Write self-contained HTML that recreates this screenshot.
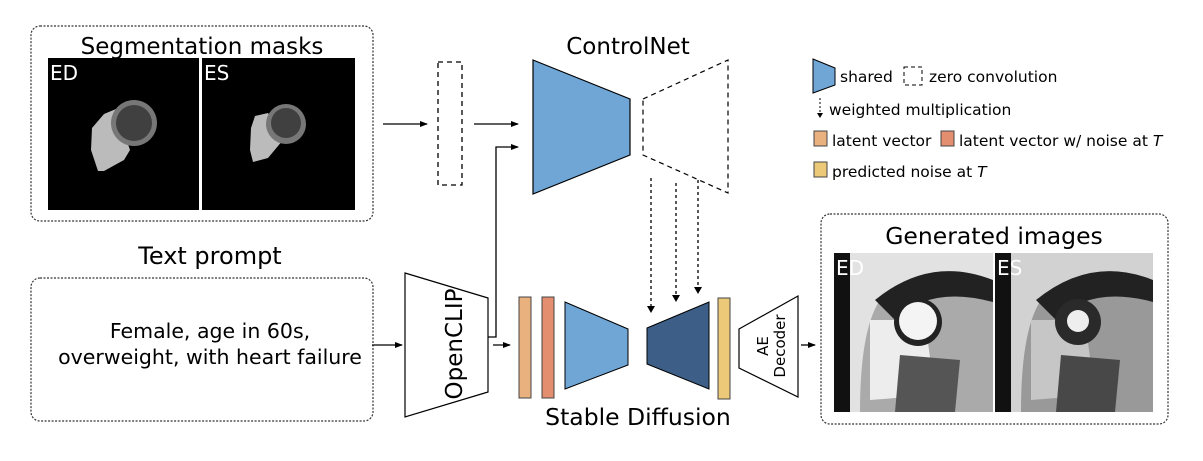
<!DOCTYPE html>
<html><head><style>
body{margin:0;background:#fff;}
svg text{font-family:"DejaVu Sans","Liberation Sans",sans-serif;fill:#000;}
</style></head><body>
<svg width="1203" height="456" viewBox="0 0 1203 456" xmlns="http://www.w3.org/2000/svg">
<defs>
<marker id="ar" markerWidth="8" markerHeight="8" refX="7" refY="4" orient="auto" markerUnits="userSpaceOnUse"><path d="M0,1 L8,4 L0,7z" fill="#000"/></marker>
</defs>
<!-- Segmentation box -->
<rect x="31" y="26" width="342" height="195" rx="9" fill="none" stroke="#333" stroke-width="1.2" stroke-dasharray="2,1.5"/>
<text x="202" y="54" font-size="23" text-anchor="middle">Segmentation masks</text>
<rect x="48" y="58" width="307" height="152" fill="#000"/>
<rect x="199" y="58" width="3" height="152" fill="#fff"/>
<text x="50" y="80" font-size="20" style="fill:#fff">ED</text>
<text x="204" y="80" font-size="20" style="fill:#fff">ES</text>
<path d="M104,114 L116,109 L130,150 L124,160 L104,171 L98,171 L91,150 L92,128z" fill="#bbb"/>
<circle cx="134" cy="123" r="23" fill="#777"/><circle cx="134" cy="123" r="18" fill="#404040"/>
<path d="M255,116 L268,113 L283,140 L268,158 L253,162 L250,150 L251,128z" fill="#bbb"/>
<circle cx="286" cy="124" r="20" fill="#777"/><circle cx="286" cy="123" r="15" fill="#404040"/>
<!-- Text prompt -->
<text x="210" y="264" font-size="24" text-anchor="middle">Text prompt</text>
<rect x="31" y="278" width="342" height="143" rx="9" fill="none" stroke="#333" stroke-width="1.2" stroke-dasharray="2,1.5"/>
<text x="210" y="338" font-size="20.5" text-anchor="middle">Female, age in 60s,</text>
<text x="210" y="364" font-size="20.5" text-anchor="middle">overweight, with heart failure</text>
<!-- arrows top -->
<line x1="383" y1="124" x2="427" y2="124" stroke="#000" stroke-width="1.3" marker-end="url(#ar)"/>
<rect x="438" y="62" width="24" height="123" fill="none" stroke="#000" stroke-width="1.3" stroke-dasharray="5,4"/>
<line x1="474" y1="124" x2="518" y2="124" stroke="#000" stroke-width="1.3" marker-end="url(#ar)"/>
<polyline points="488,337 496,337 496,147 518,147" fill="none" stroke="#000" stroke-width="1.3" marker-end="url(#ar)"/>
<text x="628" y="54" font-size="23" text-anchor="middle">ControlNet</text>
<polygon points="533,60 630,99 630,155 533,194" fill="#6fa6d6" stroke="#000" stroke-width="1.2"/>
<polygon points="643,99 728,60 728,193 643,155" fill="none" stroke="#000" stroke-width="1.2" stroke-dasharray="5,4"/>
<!-- dotted -->
<g stroke="#000" stroke-width="1.3" stroke-dasharray="3,3" fill="none">
<line x1="651" y1="178" x2="651" y2="307"/><line x1="676" y1="183" x2="676" y2="295"/><line x1="698" y1="180" x2="698" y2="287"/>
</g>
<path d="M647,306 L655,306 L651,313z M672,295 L680,295 L676,302z M694,287 L702,287 L698,294z" fill="#000"/>
<!-- OpenCLIP -->
<line x1="372" y1="345" x2="402" y2="345" stroke="#000" stroke-width="1.3" marker-end="url(#ar)"/>
<polygon points="405,273 488,298 488,392 405,417" fill="#fff" stroke="#000" stroke-width="1.2"/>
<text transform="translate(455,344) rotate(-90)" font-size="23" text-anchor="middle" dominant-baseline="central">OpenCLIP</text>
<line x1="493" y1="345" x2="510" y2="345" stroke="#000" stroke-width="1.3" marker-end="url(#ar)"/>
<rect x="519" y="297" width="12" height="101" fill="#e9b17e" stroke="#444" stroke-width="1"/>
<rect x="542" y="297" width="12" height="101" fill="#e38e6e" stroke="#444" stroke-width="1"/>
<polygon points="565,302 628,329 628,365 565,389" fill="#6fa6d6" stroke="#000" stroke-width="1"/>
<polygon points="647,328 709,302 709,389 647,364" fill="#3d5f87" stroke="#000" stroke-width="1"/>
<rect x="718" y="298" width="12" height="101" fill="#ebc978" stroke="#444" stroke-width="1"/>
<polygon points="739,329 798,296 798,397 739,368" fill="#fff" stroke="#000" stroke-width="1.2"/>
<text transform="translate(771,346) rotate(-90)" font-size="15" text-anchor="middle"><tspan x="0" dy="-3">AE</tspan><tspan x="0" dy="17">Decoder</tspan></text>
<line x1="801" y1="345" x2="815" y2="345" stroke="#000" stroke-width="1.3" marker-end="url(#ar)"/>
<text x="638" y="425" font-size="23.5" text-anchor="middle">Stable Diffusion</text>
<!-- Generated -->
<rect x="821" y="214" width="347" height="210" rx="9" fill="none" stroke="#333" stroke-width="1.2" stroke-dasharray="2,1.5"/>
<text x="994" y="244" font-size="23.5" text-anchor="middle">Generated images</text>
<g>
<rect x="834" y="253" width="159" height="159" fill="#aaa"/>
<rect x="834" y="253" width="16" height="159" fill="#111"/>
<path d="M850,253 L993,253 L993,300 Q930,260 880,300 Q860,330 860,412 L850,412z" fill="#e2e2e2"/>
<path d="M875,300 Q930,255 993,280 L993,302 Q930,285 895,320z" fill="#222"/>
<path d="M870,320 L925,320 L935,395 L870,400z" fill="#ededed"/>
<path d="M900,355 L960,360 L955,412 L895,412z" fill="#555"/>
<circle cx="918" cy="322" r="24" fill="#222"/><circle cx="918" cy="321" r="19" fill="#f4f4f4"/>
<rect x="995" y="253" width="158" height="159" fill="#999"/>
<rect x="995" y="253" width="16" height="159" fill="#111"/>
<path d="M1011,253 L1153,253 L1153,300 Q1090,260 1041,300 Q1021,330 1021,412 L1011,412z" fill="#d2d2d2"/>
<path d="M1036,300 Q1091,255 1153,280 L1153,302 Q1091,285 1056,320z" fill="#222"/>
<path d="M1031,320 L1085,320 L1095,395 L1031,400z" fill="#c6c6c6"/>
<path d="M1061,355 L1120,360 L1115,412 L1056,412z" fill="#484848"/>
<circle cx="1078" cy="322" r="23" fill="#2a2a2a"/><circle cx="1078" cy="321" r="11" fill="#eee"/>
<text x="836" y="275" font-size="20" style="fill:#fff">ED</text>
<text x="997" y="275" font-size="20" style="fill:#fff">ES</text>
</g>
<!-- Legend -->
<polygon points="813,59 835,68 835,85 813,93" fill="#6fa6d6" stroke="#000" stroke-width="1"/>
<text x="840" y="82" font-size="15.5">shared</text>
<rect x="904" y="67" width="18" height="18" fill="none" stroke="#000" stroke-dasharray="4,3"/>
<text x="929" y="82" font-size="15.5">zero convolution</text>
<line x1="820" y1="98" x2="820" y2="113" stroke="#000" stroke-dasharray="2,2"/>
<path d="M817,113 L823,113 L820,118z" fill="#000"/>
<text x="829" y="115" font-size="15.5">weighted multiplication</text>
<rect x="814" y="131" width="13" height="15" fill="#e9b17e" stroke="#444"/>
<text x="832" y="146" font-size="15.5">latent vector</text>
<rect x="941" y="131" width="13" height="15" fill="#e38e6e" stroke="#444"/>
<text x="959" y="146" font-size="15.5">latent vector w/ noise at <tspan font-style="italic">T</tspan></text>
<rect x="814" y="162" width="13" height="15" fill="#ebc978" stroke="#444"/>
<text x="832" y="177" font-size="15.5">predicted noise at <tspan font-style="italic">T</tspan></text>
</svg>
</body></html>
